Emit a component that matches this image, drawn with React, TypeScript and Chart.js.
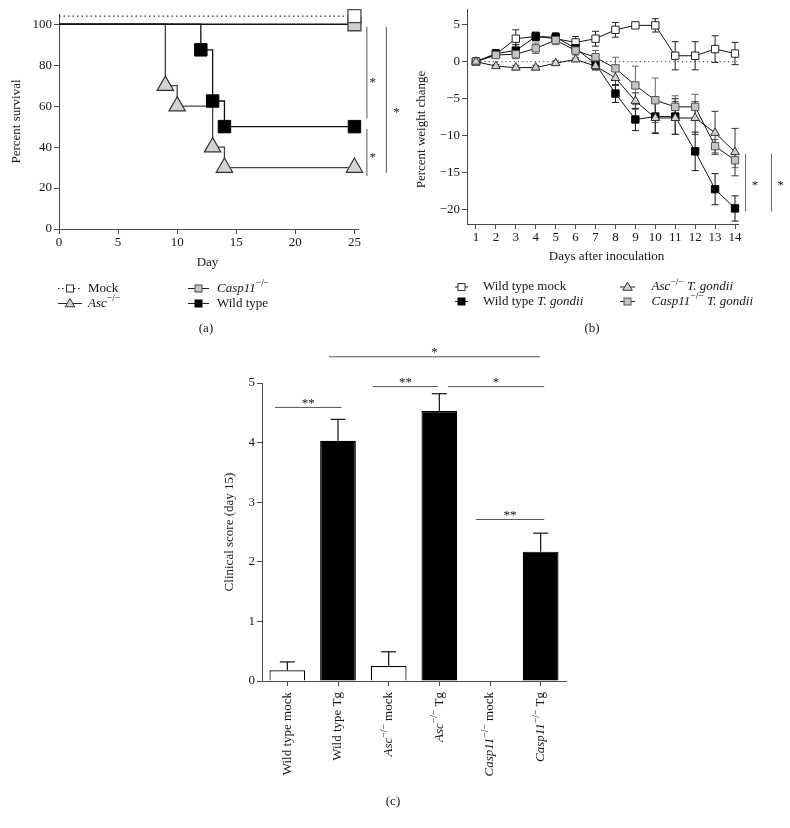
import React, { useEffect, useRef } from 'react';
import { Chart, registerables } from 'chart.js';

Chart.register(...registerables);

const SERIF = '"Liberation Serif", "Times New Roman", serif';
const PAGE_W = 790;
const PAGE_H = 828;
const TEXT = '#141414';
const AXIS = '#4a4a4a';
const SIG = '#555555';

// ---------------- (a) survival ----------------
const mockDays = [0, 25];
const mockSurvival = [104, 104];
const casp11Days = [0, 25];
const casp11Survival = [100, 100];
const ascDays = [0, 9, 10, 13, 14, 25];
const ascSurvival = [100, 70, 60, 40, 30, 30];
const wtDays = [0, 12, 13, 14, 25];
const wtSurvival = [100, 87.5, 62.5, 50, 50];
const survivalTicks = [0, 20, 40, 60, 80, 100];
const dayTicks = [0, 5, 10, 15, 20, 25];

// ---------------- (b) weight change ----------------
const inoculationDays = [1, 2, 3, 4, 5, 6, 7, 8, 9, 10, 11, 12, 13, 14];
const mockWeight = [0, 1.0, 3.1, 3.4, 3.1, 2.6, 3.1, 4.3, 4.9, 4.9, 0.8, 0.8, 1.7, 1.1];
const mockWeightErr = [0, 0.5, 1.2, 0.6, 0.6, 0.8, 1.0, 1.0, 0.4, 0.9, 1.9, 1.9, 1.8, 1.5];
const wtWeight = [0, 1.1, 1.5, 3.4, 3.3, 1.8, -0.3, -4.3, -7.8, -7.4, -7.4, -12.1, -17.2, -19.8];
const wtWeightErr = [0, 0.5, 0.8, 0.5, 0.6, 0.7, 0.8, 1.2, 1.5, 2.3, 2.4, 2.6, 2.1, 1.7];
const ascWeight = [0, -0.6, -0.8, -0.8, -0.2, 0.3, -0.6, -2.2, -5.3, -7.6, -7.6, -7.6, -9.6, -12.2];
const ascWeightErr = [0, 0.2, 0.3, 0.3, 0.3, 0.2, 0.5, 1.0, 1.1, 2.0, 2.2, 2.2, 2.9, 3.2];
const casp11Weight = [0, 0.9, 1.0, 1.8, 2.9, 1.5, 0.6, -0.9, -3.2, -5.2, -6.1, -6.1, -11.4, -13.3];
const casp11WeightErr = [0, 0.4, 0.6, 0.7, 0.6, 0.6, 0.9, 1.5, 2.6, 3.0, 1.5, 1.7, 0.9, 1.0];
const weightTicks = [-20, -15, -10, -5, 0, 5];

// ---------------- (c) clinical score ----------------
const groupLabels = ['Wild type mock', 'Wild type Tg', 'Asc-/- mock', 'Asc-/- Tg', 'Casp11-/- mock', 'Casp11-/- Tg'];
const clinicalScore = [0.18, 4.03, 0.25, 4.53, 0, 2.17];
const clinicalSem = [0.14, 0.36, 0.24, 0.29, 0, 0.31];
const scoreTicks = [0, 1, 2, 3, 4, 5];

type Seg = { t: string; i?: boolean; s?: boolean };

const groupLabelSegs: Seg[][] = [
  [{ t: 'Wild type mock' }],
  [{ t: 'Wild type Tg' }],
  [{ t: 'Asc', i: true }, { t: '−/−', s: true }, { t: ' mock' }],
  [{ t: 'Asc', i: true }, { t: '−/−', s: true }, { t: ' Tg' }],
  [{ t: 'Casp11', i: true }, { t: '−/−', s: true }, { t: ' mock' }],
  [{ t: 'Casp11', i: true }, { t: '−/−', s: true }, { t: ' Tg' }],
];

const pts = (xs: number[], ys: number[]) => xs.map((x, i) => ({ x, y: ys[i] }));

function fontFor(seg: Seg, size: number) {
  const sz = seg.s ? size * 0.74 : size;
  return `${seg.i ? 'italic ' : ''}${sz}px ${SERIF}`;
}
function richWidth(ctx: CanvasRenderingContext2D, segs: Seg[], size: number) {
  let w = 0;
  for (const seg of segs) {
    ctx.font = fontFor(seg, size);
    w += ctx.measureText(seg.t).width;
  }
  return w;
}
function drawRich(ctx: CanvasRenderingContext2D, segs: Seg[], x: number, y: number, size: number, align: 'left' | 'center' | 'right' = 'left') {
  const w = richWidth(ctx, segs, size);
  let cx = align === 'left' ? x : align === 'center' ? x - w / 2 : x - w;
  ctx.save();
  ctx.fillStyle = TEXT;
  ctx.textAlign = 'left';
  ctx.textBaseline = 'middle';
  for (const seg of segs) {
    ctx.font = fontFor(seg, size);
    ctx.fillText(seg.t, cx, seg.s ? y - size * 0.36 : y);
    cx += ctx.measureText(seg.t).width;
  }
  ctx.restore();
}
function drawRotated(ctx: CanvasRenderingContext2D, segs: Seg[], x: number, y: number, size: number, align: 'left' | 'center' | 'right') {
  ctx.save();
  ctx.translate(x, y);
  ctx.rotate(-Math.PI / 2);
  drawRich(ctx, segs, 0, 0, size, align);
  ctx.restore();
}
function drawStar(ctx: CanvasRenderingContext2D, text: string, x: number, yCenter: number) {
  ctx.save();
  ctx.fillStyle = TEXT;
  ctx.font = `13px ${SERIF}`;
  ctx.textAlign = 'center';
  ctx.textBaseline = 'alphabetic';
  ctx.fillText(text, x, yCenter + 6.3);
  ctx.restore();
}
function line(ctx: CanvasRenderingContext2D, x1: number, y1: number, x2: number, y2: number, color: string, width = 1, dash: number[] = []) {
  ctx.save();
  ctx.strokeStyle = color;
  ctx.lineWidth = width;
  ctx.setLineDash(dash);
  ctx.beginPath();
  ctx.moveTo(x1, y1);
  ctx.lineTo(x2, y2);
  ctx.stroke();
  ctx.restore();
}
function square(ctx: CanvasRenderingContext2D, x: number, y: number, side: number, fill: string, stroke: string) {
  ctx.save();
  ctx.fillStyle = fill;
  ctx.strokeStyle = stroke;
  ctx.lineWidth = 1;
  ctx.fillRect(x - side / 2, y - side / 2, side, side);
  ctx.strokeRect(x - side / 2, y - side / 2, side, side);
  ctx.restore();
}
function triangle(ctx: CanvasRenderingContext2D, x: number, y: number, w: number, fill: string, stroke: string) {
  const h = w * 0.866;
  ctx.save();
  ctx.fillStyle = fill;
  ctx.strokeStyle = stroke;
  ctx.lineWidth = 1;
  ctx.beginPath();
  ctx.moveTo(x, y - h * 0.6);
  ctx.lineTo(x + w / 2, y + h * 0.4);
  ctx.lineTo(x - w / 2, y + h * 0.4);
  ctx.closePath();
  ctx.fill();
  ctx.stroke();
  ctx.restore();
}

type Sym = { kind: 'square' | 'triangle'; fill: string; stroke: string; dash?: boolean };
function legendItem(ctx: CanvasRenderingContext2D, sym: Sym, x1: number, x2: number, y: number, mk: number, textX: number, segs: Seg[]) {
  line(ctx, x1, y, x2, y, '#222', 1, sym.dash ? [1.5, 2.5] : []);
  const cx = (x1 + x2) / 2;
  if (sym.kind === 'square') square(ctx, cx, y, mk, sym.fill, sym.stroke);
  else triangle(ctx, cx, y, mk * 1.35, sym.fill, sym.stroke);
  drawRich(ctx, segs, textX, y, 13, 'left');
}

function linearAxis(o: { min: number; max: number; ticks: number[]; size: number; vertical: boolean; pad: number; fmt?: (v: number) => string }) {
  return {
    type: 'linear' as const,
    min: o.min,
    max: o.max,
    afterBuildTicks: (s: any) => {
      s.ticks = o.ticks.map((v) => ({ value: v }));
    },
    afterFit: (s: any) => {
      if (o.vertical) s.width = o.size;
      else s.height = o.size;
    },
    grid: { display: true, drawOnChartArea: false, drawTicks: true, tickLength: 5, color: AXIS, lineWidth: 1 },
    border: { display: true, color: AXIS, width: 1 },
    ticks: {
      font: { family: SERIF, size: 13 },
      color: TEXT,
      padding: o.pad,
      maxRotation: 0,
      autoSkip: false,
      callback: (v: any) => (o.fmt ? o.fmt(Number(v)) : String(v)),
    },
  };
}

const baseOptions = {
  responsive: false,
  animation: false as const,
  events: [] as any[],
};

// ------------------------------------------------------------
function makeSurvival(canvas: HTMLCanvasElement) {
  const bracketA = [
    { x: 26.05, from: 98.7, to: 54, starX: 26.55, starY: 72.8 },
    { x: 26.05, from: 48.9, to: 25.9, starX: 26.55, starY: 36.1 },
    { x: 27.7, from: 98.7, to: 27.4, starX: 28.55, starY: 58.1 },
  ];
  const deco = {
    id: 'decoA',
    afterDraw(chart: any) {
      const { ctx, scales } = chart;
      const xs = scales.x, ys = scales.y;
      bracketA.forEach((b) => {
        const px = xs.getPixelForValue(b.x);
        line(ctx, px, ys.getPixelForValue(b.from), px, ys.getPixelForValue(b.to), SIG);
        drawStar(ctx, '*', xs.getPixelForValue(b.starX), ys.getPixelForValue(b.starY));
      });
      drawRotated(ctx, [{ t: 'Percent survival' }], 17, (ys.top + ys.bottom) / 2, 13, 'center');
      drawRich(ctx, [{ t: 'Day' }], (xs.left + xs.right) / 2 - 1, 263, 13, 'center');
      legendItem(ctx, { kind: 'square', fill: '#fff', stroke: '#333', dash: true }, 58, 82, 288.5, 7, 88, [{ t: 'Mock' }]);
      legendItem(ctx, { kind: 'triangle', fill: '#d0d0d0', stroke: '#333' }, 58, 82, 303.5, 7, 88, [{ t: 'Asc', i: true }, { t: '−/−', s: true }]);
      legendItem(ctx, { kind: 'square', fill: '#c8c8c8', stroke: '#444' }, 188, 209, 288.5, 7, 217, [{ t: 'Casp11', i: true }, { t: '−/−', s: true }]);
      legendItem(ctx, { kind: 'square', fill: '#000', stroke: '#000' }, 188, 209, 303.5, 7, 217, [{ t: 'Wild type' }]);
      drawRich(ctx, [{ t: '(a)' }], 206, 329, 13, 'center');
    },
  };
  return new Chart(canvas, {
    type: 'line',
    data: {
      datasets: [
        {
          label: 'Mock',
          data: pts(mockDays, mockSurvival),
          borderColor: '#333',
          borderWidth: 1.2,
          borderDash: [1.5, 3],
          stepped: true,
          pointStyle: 'rect',
          pointRadius: [0, 9.2],
          pointBackgroundColor: '#fff',
          pointBorderColor: '#444',
          pointBorderWidth: 1.3,
          clip: false,
        },
        {
          label: 'Casp11-/-',
          data: pts(casp11Days, casp11Survival),
          borderColor: '#111',
          borderWidth: 1.3,
          stepped: true,
          pointStyle: 'rect',
          pointRadius: [0, 9.2],
          pointBackgroundColor: '#cfcfcf',
          pointBorderColor: '#444',
          pointBorderWidth: 1.3,
          clip: false,
        },
        {
          label: 'Wild type',
          data: pts(wtDays, wtSurvival),
          borderColor: '#111',
          borderWidth: 1.3,
          stepped: true,
          pointStyle: 'rect',
          pointRadius: [0, 8.8, 8.8, 8.8, 8.8],
          pointBackgroundColor: '#000',
          pointBorderColor: '#000',
          pointBorderWidth: 1,
          clip: false,
        },
        {
          label: 'Asc-/-',
          data: pts(ascDays, ascSurvival),
          borderColor: '#444',
          borderWidth: 1.3,
          stepped: true,
          pointStyle: 'triangle',
          pointRadius: [0, 9.5, 9.5, 9.5, 9.5, 9.5],
          pointBackgroundColor: '#d3d3d3',
          pointBorderColor: '#333',
          pointBorderWidth: 1.2,
          clip: false,
        },
      ],
    },
    options: {
      ...baseOptions,
      layout: { padding: { left: 14, right: 432, top: 14, bottom: 569 } },
      plugins: { legend: { display: false }, tooltip: { enabled: false } },
      scales: {
        x: linearAxis({ min: 0, max: 25.3, ticks: dayTicks, size: 30, vertical: false, pad: 1 }),
        y: linearAxis({ min: 0, max: 105, ticks: survivalTicks, size: 45, vertical: true, pad: 2 }),
      },
    } as any,
    plugins: [deco],
  });
}

// ------------------------------------------------------------
function makeWeight(canvas: HTMLCanvasElement) {
  const errSeries = [
    { v: mockWeight, e: mockWeightErr, c: '#222' },
    { v: wtWeight, e: wtWeightErr, c: '#111' },
    { v: casp11Weight, e: casp11WeightErr, c: '#666' },
    { v: ascWeight, e: ascWeightErr, c: '#333' },
  ];
  const bracketB = [
    { x: 14.53, from: -12.4, to: -20.2, starX: 15.0, starY: -16.3 },
    { x: 15.83, from: -12.4, to: -20.2, starX: 16.3, starY: -16.3 },
  ];
  const deco = {
    id: 'decoB',
    beforeDatasetsDraw(chart: any) {
      const { ctx, scales } = chart;
      const xs = scales.x, ys = scales.y;
      const y0 = ys.getPixelForValue(0);
      line(ctx, xs.getPixelForValue(inoculationDays[0]), y0, xs.getPixelForValue(inoculationDays[inoculationDays.length - 1]) + 2, y0, '#333', 1, [1.2, 3]);
      errSeries.forEach((s) => {
        inoculationDays.forEach((d, i) => {
          if (!s.e[i]) return;
          const px = xs.getPixelForValue(d);
          const top = ys.getPixelForValue(s.v[i] + s.e[i]);
          const bot = ys.getPixelForValue(s.v[i] - s.e[i]);
          line(ctx, px, top, px, bot, s.c);
          line(ctx, px - 3.5, top, px + 3.5, top, s.c);
          line(ctx, px - 3.5, bot, px + 3.5, bot, s.c);
        });
      });
    },
    afterDraw(chart: any) {
      const { ctx, scales } = chart;
      const xs = scales.x, ys = scales.y;
      bracketB.forEach((b) => {
        const px = xs.getPixelForValue(b.x);
        line(ctx, px, ys.getPixelForValue(b.from), px, ys.getPixelForValue(b.to), '#666');
        drawStar(ctx, '*', xs.getPixelForValue(b.starX), ys.getPixelForValue(b.starY));
      });
      drawRotated(ctx, [{ t: 'Percent weight change' }], 421.5, 129.5, 13, 'center');
      drawRich(ctx, [{ t: 'Days after inoculation' }], 606.5, 256.5, 13, 'center');
      legendItem(ctx, { kind: 'square', fill: '#fff', stroke: '#333' }, 455, 468, 287, 7, 483, [{ t: 'Wild type mock' }]);
      legendItem(ctx, { kind: 'square', fill: '#000', stroke: '#000' }, 455, 468, 301.5, 7, 483, [{ t: 'Wild type ' }, { t: 'T. gondii', i: true }]);
      legendItem(ctx, { kind: 'triangle', fill: '#d0d0d0', stroke: '#333' }, 620, 635, 287, 7, 651.5, [{ t: 'Asc', i: true }, { t: '−/−', s: true }, { t: ' T. gondii', i: true }]);
      legendItem(ctx, { kind: 'square', fill: '#c4c4c4', stroke: '#555' }, 620, 635, 301.5, 7, 651.5, [{ t: 'Casp11', i: true }, { t: '−/−', s: true }, { t: ' T. gondii', i: true }]);
      drawRich(ctx, [{ t: '(b)' }], 592, 329, 13, 'center');
    },
  };
  const mk = (label: string, values: number[], style: string, fill: string, stroke: string, r: number) => ({
    label,
    data: pts(inoculationDays, values),
    borderColor: '#111',
    borderWidth: 1,
    pointStyle: style,
    pointRadius: r,
    pointBackgroundColor: fill,
    pointBorderColor: stroke,
    pointBorderWidth: 1,
    clip: false,
  });
  return new Chart(canvas, {
    type: 'line',
    data: {
      datasets: [
        mk('Asc-/- T. gondii', ascWeight, 'triangle', '#d0d0d0', '#333', 5),
        mk('Casp11-/- T. gondii', casp11Weight, 'rect', '#c4c4c4', '#555', 5.2),
        mk('Wild type T. gondii', wtWeight, 'rect', '#000', '#000', 5.2),
        mk('Wild type mock', mockWeight, 'rect', '#fff', '#222', 5.2),
      ] as any,
    },
    options: {
      ...baseOptions,
      layout: { padding: { left: 422, right: 52, top: 8, bottom: 574 } },
      plugins: { legend: { display: false }, tooltip: { enabled: false } },
      scales: {
        x: linearAxis({ min: 0.55, max: 14.15, ticks: inoculationDays, size: 30, vertical: false, pad: 1 }),
        y: linearAxis({
          min: -21.9,
          max: 7,
          ticks: weightTicks,
          size: 45,
          vertical: true,
          pad: 2,
          fmt: (v) => (v < 0 ? '−' + Math.abs(v) : String(v)),
        }),
      },
    } as any,
    plugins: [deco],
  });
}

// ------------------------------------------------------------
function makeScore(canvas: HTMLCanvasElement) {
  const bracketC = [
    { from: -0.24, to: 1.07, y: 4.59, text: '**' },
    { from: 1.69, to: 2.97, y: 4.94, text: '**' },
    { from: 3.17, to: 5.07, y: 4.94, text: '*' },
    { from: 0.82, to: 4.99, y: 5.44, text: '*' },
    { from: 3.72, to: 5.07, y: 2.71, text: '**' },
  ];
  const deco = {
    id: 'decoC',
    afterDatasetsDraw(chart: any) {
      const { ctx, scales } = chart;
      const xs = scales.x, ys = scales.y;
      clinicalScore.forEach((v, i) => {
        if (!clinicalSem[i]) return;
        const px = xs.getPixelForValue(i);
        const top = ys.getPixelForValue(v + clinicalSem[i]);
        const base = ys.getPixelForValue(v);
        line(ctx, px, base, px, top, '#111', 1.2);
        line(ctx, px - 7.5, top, px + 7.5, top, '#111', 1.2);
      });
    },
    afterDraw(chart: any) {
      const { ctx, scales } = chart;
      const xs = scales.x, ys = scales.y;
      bracketC.forEach((b) => {
        const y = ys.getPixelForValue(b.y);
        const x1 = xs.getPixelForValue(b.from);
        const x2 = xs.getPixelForValue(b.to);
        line(ctx, x1, y, x2, y, SIG);
        drawStar(ctx, b.text, (x1 + x2) / 2, y - 7.2);
      });
      groupLabelSegs.forEach((segs, i) => {
        drawRotated(ctx, segs, xs.getPixelForTick(i), ys.bottom + 11, 13, 'right');
      });
      drawRotated(ctx, [{ t: 'Clinical score (day 15)' }], 230, (ys.top + ys.bottom) / 2, 13, 'center');
      drawRich(ctx, [{ t: '(c)' }], 393, 802, 13, 'center');
    },
  };
  return new Chart(canvas, {
    type: 'bar',
    data: {
      labels: groupLabels,
      datasets: [
        {
          label: 'Clinical score',
          data: clinicalScore,
          backgroundColor: ['#fff', '#000', '#fff', '#000', '#fff', '#000'],
          borderColor: '#000',
          borderWidth: 1.2,
          barPercentage: 0.705,
          categoryPercentage: 1,
        },
      ],
    },
    options: {
      ...baseOptions,
      layout: { padding: { left: 222, right: 224, top: 383, bottom: 27 } },
      plugins: { legend: { display: false }, tooltip: { enabled: false } },
      scales: {
        x: {
          type: 'category',
          offset: true,
          afterFit: (s: any) => {
            s.height = 120;
          },
          grid: { display: true, offset: false, drawOnChartArea: false, drawTicks: true, tickLength: 5, color: AXIS, lineWidth: 1 },
          border: { display: true, color: AXIS, width: 1 },
          ticks: { display: false },
        },
        y: linearAxis({ min: 0, max: 5, ticks: scoreTicks, size: 40, vertical: true, pad: 2 }),
      },
    } as any,
    plugins: [deco],
  });
}

export default function App() {
  const aRef = useRef<HTMLCanvasElement>(null);
  const bRef = useRef<HTMLCanvasElement>(null);
  const cRef = useRef<HTMLCanvasElement>(null);
  useEffect(() => {
    const charts = [makeSurvival(aRef.current!), makeWeight(bRef.current!), makeScore(cRef.current!)];
    return () => charts.forEach((c) => c.destroy());
  }, []);
  const cv: React.CSSProperties = { position: 'absolute', left: 0, top: 0, width: PAGE_W, height: PAGE_H };
  return (
    <div style={{ position: 'absolute', left: 0, top: 0, width: PAGE_W, height: PAGE_H, background: '#fff' }}>
      <canvas ref={aRef} width={PAGE_W} height={PAGE_H} style={cv} />
      <canvas ref={bRef} width={PAGE_W} height={PAGE_H} style={cv} />
      <canvas ref={cRef} width={PAGE_W} height={PAGE_H} style={cv} />
    </div>
  );
}
